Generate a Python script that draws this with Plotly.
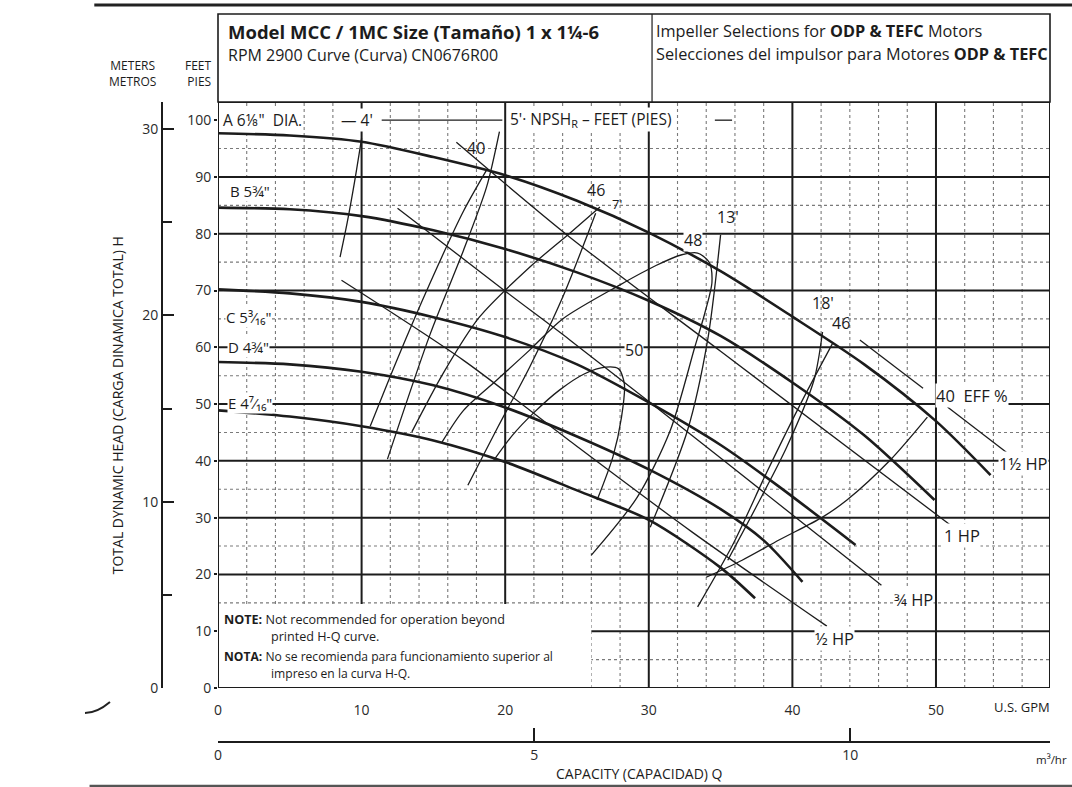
import plotly.graph_objects as go

# ---------------- data ----------------
gpm_ticks = [0, 10, 20, 30, 40, 50]
ft_ticks = [0, 10, 20, 30, 40, 50, 60, 70, 80, 90, 100]
gpm_major_grid = [10, 20, 30, 40, 50]
gpm_minor_grid = [2, 4, 6, 8, 12, 14, 16, 18, 22, 24, 26, 28, 32, 34, 36, 38,
                  42, 44, 46, 48, 52, 54, 56]
ft_major_grid = [10, 20, 30, 40, 50, 60, 70, 80, 90]
ft_minor_grid = [5, 15, 25, 35, 45, 55, 65, 75, 85, 95]
FT_TO_M = 0.3048
GPM_TO_M3H = 0.22712

# head-capacity curves (GPM, ft)
A_q = [0, 5, 10, 15, 20, 25, 30, 35, 40, 45, 50, 53.8]
A_h = [97.7, 97.3, 96.2, 93.5, 90.3, 85.8, 80.2, 73.4, 65.4, 57.0, 47.0, 37.5]
B_q = [0, 5, 10, 15, 20, 25, 30, 35, 40, 45, 49.9]
B_h = [84.6, 84.3, 83.1, 80.6, 77.3, 73.2, 68.2, 62.0, 53.8, 44.5, 33.1]
C_q = [0, 5, 10, 15, 20, 25, 30, 35, 39, 44.4]
C_h = [70.2, 69.5, 68.0, 65.3, 61.8, 57.0, 50.3, 42.8, 35.6, 25.2]
D_q = [0, 5, 10, 15, 20, 25, 30, 35, 38, 40.7]
D_h = [57.4, 57.0, 55.7, 53.3, 49.4, 44.3, 38.5, 31.5, 26.0, 18.7]
E_q = [0, 5, 10, 15, 20, 25, 30, 35, 37.4]
E_h = [48.9, 47.8, 46.1, 43.6, 39.8, 34.8, 29.6, 21.2, 15.8]

# efficiency contours
eff40L_q = [10.6, 12.5, 14.8, 17.1, 18.7]
eff40L_h = [46.1, 58.0, 71.5, 84.0, 91.2]
eff40R_q = [34.0, 36.5, 39.1, 42.1, 43.8, 46.8, 49.4]
eff40R_h = [19.5, 22.5, 26.1, 30.1, 33.1, 40.1, 47.7]
eff46L_q = [13.5, 15.7, 18.2, 21.7, 24.5, 26.6]
eff46L_h = [45.1, 55.5, 65.3, 74.1, 80.1, 84.7]
eff46R_q = [33.4, 35.9, 38.2, 40.7, 42.8]
eff46R_h = [14.3, 25.5, 37.9, 50.7, 60.7]
eff48_q = [15.6, 17.1, 19.4, 21.7, 24.0, 28.0, 30.5, 32.3, 33.4, 34.2, 34.4, 33.9, 33.2, 31.5, 29.2, 26.0]
eff48_h = [43.3, 48.9, 54.2, 59.5, 65.0, 71.0, 74.4, 76.3, 76.6, 75.0, 71.5, 66.0, 60.0, 45.4, 33.6, 23.4]
eff50_q = [19.2, 20.5, 22.0, 23.8, 25.5, 27.0, 27.9, 28.3, 28.1, 27.5, 26.4]
eff50_h = [40.1, 44.5, 48.5, 52.5, 55.3, 56.5, 56.2, 53.5, 47.7, 40.7, 33.1]

# NPSHr lines
npsh4_q = [8.5, 9.0, 9.5, 10.0]
npsh4_h = [75.9, 82.0, 89.0, 96.8]
npsh5_q = [11.8, 14.8, 17.1, 18.7, 19.6]
npsh5_h = [40.3, 62.5, 77.1, 88.2, 98.0]
npsh7_q = [17.4, 19.5, 21.7, 24.0, 26.3]
npsh7_h = [35.7, 46.0, 56.5, 68.8, 83.6]
npsh13_q = [30.1, 32.7, 34.1, 35.0]
npsh13_h = [28.3, 45.4, 61.3, 79.8]
npsh18_q = [35.5, 37.5, 39.6, 41.5, 42.1]
npsh18_h = [22.5, 32.0, 42.4, 54.2, 62.7]

# horsepower lines
hp05_q = [8.6, 17.1, 24.5, 33.0, 42.4]
hp05_h = [71.8, 57.7, 43.5, 27.5, 10.9]
hp075_q = [12.5, 20.1, 24.5, 35.0, 46.2]
hp075_h = [84.5, 69.7, 61.3, 40.5, 18.1]
hp1_q = [16.6, 24.5, 35.0, 51.0]
hp1_h = [96.1, 79.4, 59.3, 28.7]
hp15_q = [44.7, 49.1, None, 50.8, 54.9]
hp15_h = [61.3, 52.8, None, 49.5, 41.5]

# ---------------- figure ----------------
X_MAX = 57.94
Y_MAX = 103.2
F = "Open Sans, Noto Sans, sans-serif"
INK = "#1c1c1c"

fig = go.Figure()

def curve(q, h, w, smooth=True):
    fig.add_trace(go.Scatter(
        x=q, y=h, mode="lines",
        line=dict(color=INK, width=w, shape="spline" if smooth else "linear", smoothing=0.8),
        hoverinfo="skip", showlegend=False, connectgaps=False))

for q, h in [(A_q, A_h), (B_q, B_h), (C_q, C_h), (D_q, D_h), (E_q, E_h)]:
    curve(q, h, 2.6)
for q, h in [(eff40L_q, eff40L_h), (eff40R_q, eff40R_h), (eff46L_q, eff46L_h),
             (eff46R_q, eff46R_h), (eff48_q, eff48_h), (eff50_q, eff50_h),
             (npsh4_q, npsh4_h), (npsh5_q, npsh5_h), (npsh7_q, npsh7_h),
             (npsh13_q, npsh13_h), (npsh18_q, npsh18_h)]:
    curve(q, h, 1.3)
for q, h in [(hp05_q, hp05_h), (hp075_q, hp075_h), (hp1_q, hp1_h)]:
    curve(q, h, 1.3)
curve(hp15_q, hp15_h, 1.3, smooth=False)

# dummy trace so the metric axes are drawn
fig.add_trace(go.Scatter(x=[0], y=[0], xaxis="x2", yaxis="y2", mode="markers",
                         marker=dict(opacity=0), hoverinfo="skip", showlegend=False))

shapes = []
for gx in gpm_minor_grid:
    shapes.append(dict(type="line", xref="x", yref="y", x0=gx, x1=gx, y0=0, y1=Y_MAX,
                       line=dict(color="#7a7a7a", width=1.1, dash="dot"), layer="below"))
for gy in ft_minor_grid:
    shapes.append(dict(type="line", xref="x", yref="y", x0=0, x1=X_MAX, y0=gy, y1=gy,
                       line=dict(color="#7a7a7a", width=1.1, dash="dot"), layer="below"))
for gx in gpm_major_grid:
    shapes.append(dict(type="line", xref="x", yref="y", x0=gx, x1=gx, y0=0, y1=Y_MAX,
                       line=dict(color=INK, width=2), layer="below"))
for gy in ft_major_grid:
    shapes.append(dict(type="line", xref="x", yref="y", x0=0, x1=X_MAX, y0=gy, y1=gy,
                       line=dict(color=INK, width=2), layer="below"))
# note box (blank area)
shapes.append(dict(type="rect", xref="x", yref="y", x0=0, x1=26.0, y0=0, y1=14.8,
                   fillcolor="white", line=dict(width=0), layer="below"))
# dashes in the NPSH label row
shapes.append(dict(type="line", xref="x", yref="y", x0=11.4, x1=19.8, y0=100.0, y1=100.0,
                   line=dict(color=INK, width=1.3)))
shapes.append(dict(type="line", xref="x", yref="y", x0=34.6, x1=35.8, y0=100.0, y1=100.0,
                   line=dict(color=INK, width=1.3)))
# plot frame
shapes.append(dict(type="rect", xref="x", yref="y", x0=0, x1=X_MAX, y0=0, y1=Y_MAX,
                   line=dict(color=INK, width=2), layer="above"))
# header box
shapes.append(dict(type="rect", xref="paper", yref="paper", x0=0.12421, x1=1.0, y0=1.0, y1=1.1358,
                   line=dict(color=INK, width=1.6)))
shapes.append(dict(type="line", xref="paper", yref="paper", x0=0.5811, x1=0.5811, y0=1.0, y1=1.1358,
                   line=dict(color=INK, width=1.2)))
# scan page edges
shapes.append(dict(type="line", xref="paper", yref="paper", x0=-0.006, x1=1.03, y0=1.1497, y1=1.1497,
                   line=dict(color="#222", width=3)))
shapes.append(dict(type="line", xref="paper", yref="paper", x0=-0.011, x1=1.03, y0=-0.0555, y1=-0.0555,
                   line=dict(color="#555", width=2.5)))
shapes.append(dict(type="path", xref="paper", yref="paper",
                   path="M -0.0158 0.0571 Q -0.0032 0.0571 0.0105 0.0741",
                   line=dict(color="#222", width=2)))

ann = []
def lab(x, y, text, size=14, xanchor="center", bg="white", xref="x", yref="y", angle=0,
        color=INK, align="center"):
    ann.append(dict(x=x, y=y, xref=xref, yref=yref, text=text, showarrow=False,
                    xanchor=xanchor, yanchor="middle", textangle=angle, align=align,
                    font=dict(family=F, size=size, color=color),
                    bgcolor=bg, borderpad=0))

# diameter labels
lab(0.3, 100.1, "A 6⅛\"  DIA.", 15.5, "left")
lab(8.5, 100.1, "— 4'", 15.5, "left")
lab(20.3, 100.1, "5'· NPSH<sub>R</sub> – FEET (PIES)", 15.5, "left")
lab(0.8, 87.6, "B 5¾\"", 15, "left")
lab(0.5, 65.3, "C 5³⁄₁₆\"", 15, "left")
lab(0.6, 60.0, "D 4¾\"", 15, "left")
lab(0.6, 50.2, "E 4⁷⁄₁₆\"", 15, "left")
# efficiency / npsh labels
lab(17.97, 95.1, "40", 16, bg=None)
lab(26.3, 87.7, "46", 16, bg=None)
lab(27.8, 85.2, "7'", 13, bg=None)
lab(33.1, 78.9, "48", 16)
lab(35.5, 83.0, "13'", 16, bg=None)
lab(29.0, 59.6, "50", 16)
lab(42.1, 67.8, "18'", 16, bg=None)
lab(43.4, 64.3, "46", 16, bg=None)
lab(52.5, 51.6, "40  EFF %", 16.5)
# horsepower labels
lab(56.1, 39.6, "1½ HP", 16.5)
lab(51.8, 26.9, "1 HP", 16.5)
lab(48.4, 15.5, "¾ HP", 16.5)
lab(42.9, 8.8, "½ HP", 16.5)
# note
lab(0.35, 12.0, "<b>NOTE:</b> Not recommended for operation beyond", 12.6, "left", bg=None)
lab(3.6, 9.0, "printed H-Q curve.", 12.6, "left", bg=None)
lab(0.35, 5.6, "<b>NOTA:</b> No se recomienda para funcionamiento superior al", 12.1, "left", bg=None)
lab(3.6, 2.6, "impreso en la curva H-Q.", 12.1, "left", bg=None)
# axis titles and units
lab(0.0179, 0.532, "TOTAL DYNAMIC HEAD (CARGA DINAMICA TOTAL) H", 14, bg=None,
    xref="paper", yref="paper", angle=-90)
lab(0.0347, 1.044, "METERS<br>METROS", 12, bg=None, xref="paper", yref="paper")
lab(0.1189, 1.044, "FEET<br>PIES", 12, "right", bg=None, xref="paper", yref="paper", align="right")
lab(56.0, 0.0664, "U.S. GPM", 13, bg=None, yref="paper")
lab(1.019, -0.0154, "m³/hr", 11.5, "right", bg=None, xref="paper", yref="paper")
lab(0.5684, -0.0370, "CAPACITY (CAPACIDAD) Q", 14, bg=None, xref="paper", yref="paper")
# header
lab(0.1337, 1.1095, "<b>Model MCC / 1MC Size (Tamaño) 1 x 1¼-6</b>", 18.5, "left", bg=None,
    xref="paper", yref="paper")
lab(0.1337, 1.0725, "RPM 2900 Curve (Curva) CN0676R00", 16, "left", bg=None,
    xref="paper", yref="paper")
lab(0.5842, 1.1095, "Impeller Selections for <b>ODP & TEFC</b> Motors", 16.3, "left", bg=None,
    xref="paper", yref="paper")
lab(0.5842, 1.0741, "Selecciones del impulsor para Motores <b>ODP & TEFC</b>", 16.3, "left", bg=None,
    xref="paper", yref="paper")

tickfont = dict(family=F, size=14, color="#2a2a2a")
fig.update_layout(
    width=1072, height=787,
    margin=dict(l=100, r=22, t=102, b=37),
    paper_bgcolor="white", plot_bgcolor="white",
    showlegend=False,
    shapes=shapes, annotations=ann,
    xaxis=dict(domain=[0.12421, 1], range=[0, X_MAX], tickvals=gpm_ticks,
               ticks="outside", ticklen=9, tickcolor="rgba(0,0,0,0)",
               showgrid=False, zeroline=False, showline=False, tickfont=tickfont),
    yaxis=dict(domain=[0.09568, 1], range=[0, Y_MAX], tickvals=ft_ticks,
               ticks="outside", ticklen=3, tickwidth=1.5, tickcolor=INK,
               showgrid=False, zeroline=False, showline=False, tickfont=tickfont),
    xaxis2=dict(overlaying="x", anchor="free", position=0.0123, side="bottom",
                range=[0, X_MAX * GPM_TO_M3H], tickmode="linear", tick0=0, dtick=5,
                ticks="inside", ticklen=13, tickwidth=2, tickcolor=INK,
                showline=True, linewidth=2, linecolor=INK,
                showgrid=False, zeroline=False, tickfont=tickfont),
    yaxis2=dict(overlaying="y", anchor="free", position=0.06526, side="left",
                range=[0, Y_MAX * FT_TO_M], tickmode="linear", tick0=0, dtick=10,
                ticks="inside", ticklen=11, tickwidth=2, tickcolor=INK,
                minor=dict(tickmode="linear", tick0=0, dtick=5, ticks="inside",
                           ticklen=9, tickwidth=2, tickcolor=INK),
                showline=True, linewidth=2, linecolor=INK,
                showgrid=False, zeroline=False, tickfont=tickfont),
)

fig.write_html("out.html")
